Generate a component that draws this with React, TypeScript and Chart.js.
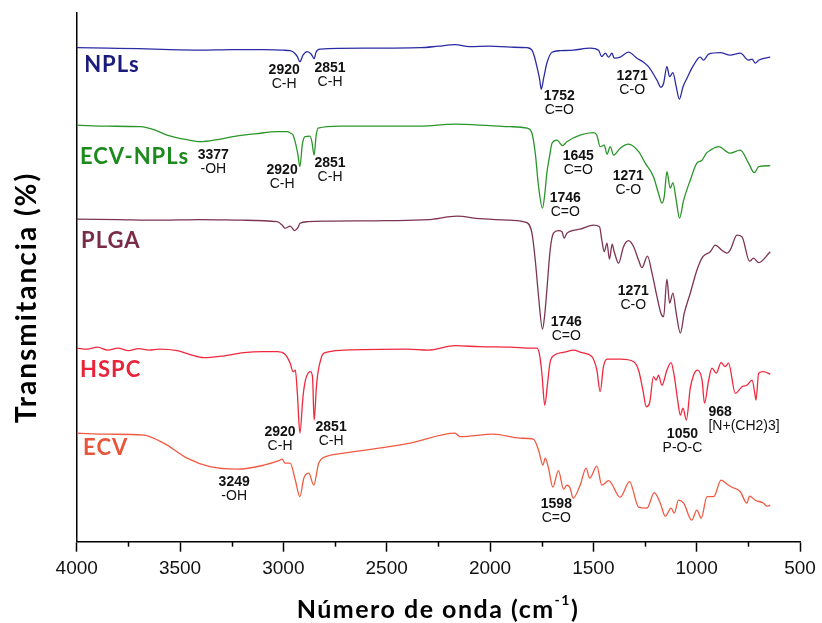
import React, { useEffect, useRef } from 'react';
import { Chart, registerables } from 'chart.js';

Chart.register(...registerables);

// Wavenumber (cm-1) vs stacked transmittance (arbitrary offset units)
const NPLS: [number, number][] = [
  [4000, 98.8], [3850, 98.7], [3700, 98.6], [3550, 98.4], [3403, 98.3], [3250, 98.4], [3100, 98.4], [3000, 98.3],
  [2967, 98.2], [2945, 97.7], [2932, 97.0], [2920, 96.0], [2905, 97.3], [2885, 98.0], [2865, 97.5], [2851, 96.6],
  [2842, 97.9], [2822, 98.5], [2600, 98.7], [2338, 98.8], [2250, 99.1], [2169, 99.4], [2100, 99.0], [2000, 99.1],
  [1900, 98.9], [1820, 98.8], [1797, 98.3], [1785, 97.0], [1773, 95.0], [1760, 92.5], [1752, 90.5], [1740, 92.8],
  [1725, 95.7], [1700, 97.9], [1660, 98.2], [1597, 98.3], [1515, 98.7], [1475, 98.3], [1459, 97.0], [1442, 97.7],
  [1426, 96.9], [1410, 97.7], [1399, 96.7], [1370, 96.9], [1330, 97.9], [1289, 96.7], [1257, 95.9], [1233, 95.0],
  [1192, 92.3], [1173, 90.9], [1160, 91.7], [1144, 95.0], [1131, 93.0], [1115, 93.8], [1099, 91.0], [1084, 88.5],
  [1066, 91.0], [1047, 92.7], [1015, 95.3], [983, 96.9], [967, 96.3], [942, 97.5], [886, 97.8], [838, 97.3],
  [789, 97.7], [749, 96.3], [732, 96.5], [716, 95.7], [700, 96.3], [644, 96.9],
];

const ECV_NPLS: [number, number][] = [
  [4000, 83.3], [3850, 83.1], [3693, 83.0], [3620, 82.3], [3563, 81.3], [3480, 80.5], [3403, 80.0], [3320, 80.4],
  [3243, 81.0], [3130, 81.6], [3030, 82.0], [2982, 82.0], [2965, 81.7], [2953, 81.3], [2940, 79.5], [2930, 77.5],
  [2920, 75.0], [2908, 79.5], [2895, 81.0], [2871, 81.1], [2862, 80.0], [2851, 77.3], [2842, 81.0], [2832, 82.7],
  [2725, 83.1], [2338, 83.1], [2169, 83.5], [2000, 83.2], [1900, 83.0], [1820, 82.7], [1797, 81.7], [1781, 77.7],
  [1765, 71.0], [1746, 66.7], [1735, 69.5], [1725, 73.7], [1710, 77.5], [1700, 79.7], [1676, 80.3], [1649, 79.2],
  [1628, 80.0], [1564, 81.3], [1499, 81.8], [1483, 81.3], [1467, 79.0], [1447, 79.3], [1434, 77.5], [1418, 79.0],
  [1402, 77.3], [1370, 78.7], [1330, 79.5], [1281, 78.0], [1249, 75.7], [1209, 73.0], [1185, 69.7], [1168, 67.7],
  [1157, 69.0], [1144, 74.0], [1128, 70.7], [1115, 71.8], [1099, 68.3], [1083, 64.7], [1063, 68.3], [1031, 72.3],
  [999, 75.7], [974, 76.3], [953, 77.7], [934, 78.3], [894, 79.0], [838, 77.7], [789, 78.3], [749, 75.7],
  [721, 73.8], [700, 75.0], [644, 75.2],
];

const PLGA: [number, number][] = [
  [4000, 64.5], [3800, 64.4], [3600, 64.3], [3400, 64.4], [3200, 64.3], [3030, 64.0], [3005, 63.3], [2992, 62.7],
  [2967, 63.1], [2945, 62.2], [2930, 62.8], [2919, 63.7], [2880, 64.0], [2800, 64.1], [2500, 64.2], [2300, 64.4],
  [2160, 65.1], [2050, 64.6], [1900, 64.3], [1822, 63.8], [1797, 61.7], [1781, 56.3], [1765, 49.0], [1746, 42.5],
  [1735, 45.5], [1725, 50.3], [1709, 58.3], [1693, 61.7], [1669, 62.2], [1652, 62.0], [1641, 60.7], [1628, 61.7],
  [1564, 62.5], [1499, 63.3], [1470, 63.0], [1459, 60.3], [1447, 58.0], [1434, 59.7], [1422, 56.5], [1409, 59.5],
  [1399, 58.0], [1378, 55.7], [1354, 59.0], [1330, 60.2], [1305, 59.0], [1281, 56.3], [1265, 54.8], [1238, 57.1],
  [1216, 53.7], [1192, 49.0], [1173, 45.7], [1160, 45.0], [1144, 52.5], [1131, 47.7], [1115, 49.7], [1099, 45.7],
  [1079, 41.7], [1060, 45.7], [1031, 49.7], [999, 54.3], [970, 57.0], [934, 58.0], [910, 59.3], [878, 58.3],
  [853, 57.7], [838, 58.3], [805, 61.3], [781, 61.0], [744, 56.1], [725, 56.7], [700, 55.8], [644, 58.0],
];

const HSPC: [number, number][] = [
  [4000, 38.7], [3950, 38.5], [3900, 38.9], [3850, 38.3], [3800, 38.7], [3750, 38.2], [3700, 38.6], [3650, 38.3],
  [3600, 38.5], [3514, 38.2], [3450, 37.4], [3385, 36.8], [3300, 37.1], [3192, 37.8], [3100, 38.0], [3030, 38.0],
  [2992, 37.5], [2967, 35.7], [2953, 34.0], [2942, 34.3], [2932, 29.5], [2920, 21.7], [2905, 29.0], [2893, 32.3],
  [2869, 34.0], [2859, 33.0], [2851, 24.3], [2840, 31.0], [2833, 33.7], [2815, 37.0], [2804, 37.7], [2707, 38.3],
  [2400, 38.5], [2300, 38.3], [2169, 39.2], [2050, 39.0], [1900, 38.9], [1800, 38.7], [1772, 38.7], [1760, 37.3],
  [1749, 33.7], [1735, 27.3], [1722, 31.5], [1710, 35.7], [1689, 37.3], [1640, 37.9], [1596, 38.3], [1555, 37.8],
  [1507, 37.0], [1483, 34.3], [1467, 30.0], [1451, 35.0], [1434, 36.5], [1370, 36.5], [1305, 36.0], [1281, 34.3],
  [1260, 30.3], [1244, 27.0], [1228, 27.7], [1209, 33.0], [1196, 32.3], [1185, 33.3], [1168, 31.3], [1144, 34.3],
  [1124, 35.8], [1108, 33.0], [1092, 28.3], [1079, 25.3], [1066, 26.7], [1050, 24.3], [1031, 30.7], [1015, 33.3],
  [996, 34.3], [974, 32.3], [962, 27.7], [942, 32.3], [926, 34.7], [905, 33.7], [882, 35.8], [862, 35.0],
  [846, 35.7], [813, 29.7], [781, 31.0], [757, 31.3], [732, 32.3], [718, 29.5], [713, 28.3], [700, 33.7],
  [676, 34.0], [644, 33.5],
];

const ECV: [number, number][] = [
  [4000, 21.7], [3850, 21.5], [3676, 21.3], [3579, 19.7], [3466, 16.7], [3355, 15.0], [3224, 14.5], [3095, 15.3],
  [3022, 16.2], [3006, 16.5], [2992, 15.7], [2967, 15.7], [2942, 12.3], [2920, 9.0], [2901, 12.7], [2877, 13.7],
  [2853, 11.3], [2829, 15.7], [2788, 17.1], [2707, 17.7], [2386, 19.7], [2169, 21.7], [2144, 21.0], [1983, 21.5],
  [1854, 20.7], [1790, 20.5], [1765, 18.3], [1744, 15.3], [1733, 16.7], [1717, 14.7], [1696, 10.9], [1669, 14.2],
  [1644, 10.5], [1628, 11.3], [1612, 10.7], [1598, 8.7], [1564, 11.3], [1535, 14.7], [1518, 12.7], [1483, 15.1],
  [1459, 11.3], [1426, 12.2], [1370, 8.9], [1325, 12.0], [1281, 6.9], [1241, 6.7], [1205, 9.8], [1176, 7.7],
  [1152, 5.1], [1124, 6.7], [1108, 5.7], [1088, 8.3], [1063, 7.7], [1024, 4.3], [999, 6.3], [978, 4.7],
  [950, 9.0], [918, 9.0], [882, 12.3], [853, 11.5], [829, 10.9], [789, 10.0], [757, 7.7], [744, 9.1],
  [716, 8.3], [676, 7.7], [660, 7.1], [644, 7.3],
];

const SERIES_NAMES = ['NPLs', 'ECV-NPLs', 'PLGA', 'HSPC', 'ECV'];
const SERIES_DATA = [NPLS, ECV_NPLS, PLGA, HSPC, ECV];
const LINE_COLORS = ['#2b2ba3', '#2a962a', '#7d3352', '#f0283e', '#f05a42'];
const NAME_COLORS = ['#1b1b7d', '#1d8a1d', '#7a2b48', '#e8233a', '#e8553b'];
// series name anchors: [wavenumber, transmittance baseline]
const NAME_POS: [number, number][] = [[3964, 94.0], [3984, 75.5], [3979, 58.7], [3984, 33.0], [3969, 17.3]];

const X_TICKS = [4000, 3500, 3000, 2500, 2000, 1500, 1000, 500];
const X_MINOR = [3750, 3250, 2750, 2250, 1750, 1250, 750];

// peak annotations: wavenumber position, transmittance position, number, group, align
const PEAKS: { x: number; y: number; num: string; grp: string; align?: CanvasTextAlign }[] = [
  { x: 2996, y: 94.3, num: '2920', grp: 'C-H' },
  { x: 2774, y: 94.7, num: '2851', grp: 'C-H' },
  { x: 1665, y: 89.1, num: '1752', grp: 'C=O' },
  { x: 1312, y: 93.1, num: '1271', grp: 'C-O' },
  { x: 3339, y: 77.3, num: '3377', grp: '-OH' },
  { x: 3006, y: 74.3, num: '2920', grp: 'C-H' },
  { x: 2774, y: 75.7, num: '2851', grp: 'C-H' },
  { x: 1573, y: 77.1, num: '1645', grp: 'C=O' },
  { x: 1331, y: 73.1, num: '1271', grp: 'C-O' },
  { x: 1636, y: 68.7, num: '1746', grp: 'C=O' },
  { x: 1307, y: 50.1, num: '1271', grp: 'C-O' },
  { x: 1631, y: 43.9, num: '1746', grp: 'C=O' },
  { x: 3016, y: 21.9, num: '2920', grp: 'C-H' },
  { x: 2769, y: 22.9, num: '2851', grp: 'C-H' },
  { x: 1069, y: 21.5, num: '1050', grp: 'P-O-C' },
  { x: 943, y: 25.9, num: '968', grp: '[N+(CH2)3]', align: 'left' },
  { x: 3238, y: 11.9, num: '3249', grp: '-OH' },
  { x: 1679, y: 7.5, num: '1598', grp: 'C=O' },
];

const TITLE_FONT = 'Lato, "Open Sans", "DejaVu Sans", sans-serif';
const LABEL_FONT = '"Liberation Sans", Arial, Helvetica, sans-serif';

const textPlugin = {
  id: 'ftirText',
  afterDraw(chart: any) {
    const { ctx, scales, chartArea } = chart;
    const xs = scales.x;
    const ys = scales.y;
    ctx.save();
    // minor ticks
    ctx.strokeStyle = '#000';
    ctx.lineWidth = 1.5;
    X_MINOR.forEach((v) => {
      const px = Math.round(xs.getPixelForValue(v)) + 0.5;
      ctx.beginPath();
      ctx.moveTo(px, chartArea.bottom);
      ctx.lineTo(px, chartArea.bottom + 5);
      ctx.stroke();
    });
    // series names
    ctx.textAlign = 'left';
    ctx.textBaseline = 'alphabetic';
    ctx.font = `bold 22px ${TITLE_FONT}`;
    (ctx as any).letterSpacing = '1px';
    SERIES_NAMES.forEach((n, i) => {
      ctx.fillStyle = NAME_COLORS[i];
      ctx.fillText(n, xs.getPixelForValue(NAME_POS[i][0]), ys.getPixelForValue(NAME_POS[i][1]));
    });
    (ctx as any).letterSpacing = '0px';
    // peak annotations
    ctx.fillStyle = '#111';
    ctx.textBaseline = 'middle';
    PEAKS.forEach((p) => {
      const px = xs.getPixelForValue(p.x);
      const py = ys.getPixelForValue(p.y);
      ctx.textAlign = p.align || 'center';
      ctx.font = `bold 14px ${LABEL_FONT}`;
      ctx.fillText(p.num, px, py);
      ctx.font = `14px ${LABEL_FONT}`;
      ctx.fillText(p.grp, px, py + 14);
    });
    // y title
    ctx.fillStyle = '#000';
    ctx.save();
    ctx.translate(36, 297.5);
    ctx.rotate(-Math.PI / 2);
    ctx.textAlign = 'center';
    ctx.textBaseline = 'alphabetic';
    ctx.font = `bold 28px ${TITLE_FONT}`;
    (ctx as any).letterSpacing = '2px';
    ctx.fillText('Transmitancia (%)', 0, 0);
    ctx.restore();
    // x title with superscript
    ctx.textBaseline = 'alphabetic';
    ctx.textAlign = 'left';
    (ctx as any).letterSpacing = '1.5px';
    const main = 'Número de onda (cm';
    const sup = '-1';
    const close = ')';
    ctx.font = `bold 25px ${TITLE_FONT}`;
    const w1 = ctx.measureText(main).width;
    const w3 = ctx.measureText(close).width;
    ctx.font = `bold 14px ${TITLE_FONT}`;
    const w2 = ctx.measureText(sup).width;
    const total = w1 + w2 + w3;
    let sx = 438 - total / 2;
    const base = 618;
    ctx.font = `bold 25px ${TITLE_FONT}`;
    ctx.fillText(main, sx, base);
    sx += w1;
    ctx.font = `bold 14px ${TITLE_FONT}`;
    ctx.fillText(sup, sx, base - 13);
    sx += w2;
    ctx.font = `bold 25px ${TITLE_FONT}`;
    ctx.fillText(close, sx, base);
    ctx.restore();
  },
};

export default function App() {
  const ref = useRef<HTMLCanvasElement>(null);
  useEffect(() => {
    const canvas = ref.current;
    if (!canvas) return;
    const chart = new Chart(canvas, {
      type: 'line',
      data: {
        datasets: SERIES_DATA.map((d, i) => ({
          label: SERIES_NAMES[i],
          data: d.map(([x, y]) => ({ x, y })),
          borderColor: LINE_COLORS[i],
          borderWidth: 1.3,
          pointRadius: 0,
          fill: false,
          cubicInterpolationMode: 'monotone' as const,
        })),
      },
      options: {
        responsive: false,
        animation: false,
        events: [],
        layout: { padding: { left: 0, right: 22, top: 13, bottom: 0 } },
        plugins: { legend: { display: false }, tooltip: { enabled: false } },
        scales: {
          x: {
            type: 'linear',
            reverse: true,
            min: 500,
            max: 4000,
            afterBuildTicks: (s: any) => {
              s.ticks = X_TICKS.map((v) => ({ value: v }));
            },
            ticks: {
              font: { family: LABEL_FONT, size: 19 },
              color: '#111',
              padding: 6,
              maxRotation: 0,
              autoSkip: false,
              callback: (v: any) => String(v),
            },
            grid: {
              display: true,
              drawOnChartArea: false,
              drawTicks: true,
              tickLength: 10,
              tickColor: '#000',
              tickWidth: 1.5,
              color: '#000',
            },
            border: { display: true, color: '#000', width: 1.5 },
            afterFit: (s: any) => {
              s.height = 81.3;
            },
          },
          y: {
            min: 0,
            max: 105.74,
            ticks: { display: false },
            grid: { display: false },
            border: { display: true, color: '#000', width: 1.5 },
            afterFit: (s: any) => {
              s.width = 76.7;
            },
          },
        },
      },
      plugins: [textPlugin],
    });
    return () => chart.destroy();
  }, []);
  return (
    <div style={{ position: 'absolute', left: 0, top: 0, width: 822, height: 623, background: '#fff' }}>
      <canvas ref={ref} width={822} height={623} style={{ width: 822, height: 623, display: 'block' }} />
    </div>
  );
}
